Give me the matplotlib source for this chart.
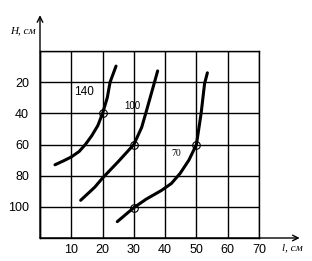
import matplotlib
matplotlib.use("Agg")
import matplotlib.pyplot as plt

# Data
curve_labels = ["140", "100", "70"]
x140 = [4.8, 7.5, 10, 12.5, 14.5, 16.5, 18.5, 20, 21.5, 22.4, 24.3]
h140 = [73, 70.5, 68, 64.5, 60, 54.5, 47.8, 40, 30, 20, 9.7]
x100 = [13, 17.5, 20, 25, 30, 32.5, 33.8, 36.6, 37.6]
h100 = [95.8, 87.4, 81.5, 71, 60, 49, 40, 20, 12.8]
x70 = [24.7, 30, 34, 38.8, 42, 44.8, 47.6, 50, 51.5, 52.6, 53.5]
h70 = [109.5, 100.5, 95, 89.5, 85, 78.5, 70, 60, 40, 21, 14]
pts_x = [20, 30, 30, 50]
pts_h = [40, 60, 100.5, 60]
xticks = [0, 10, 20, 30, 40, 50, 60, 70]
yticks = [0, 20, 40, 60, 80, 100, 120]
xtick_labels = ["", "10", "20", "30", "40", "50", "60", "70"]
ytick_labels = ["", "20", "40", "60", "80", "100", ""]

plt.rcParams['font.family'] = ['Liberation Sans Narrow', 'Liberation Sans', 'DejaVu Sans']

fig = plt.figure(figsize=(3.12, 2.61), dpi=100)
ax = fig.add_axes([40/312, 23/261, 219/312, 187/261])
ax.set_xlim(0, 70)
ax.set_ylim(120, 0)
ax.set_xticks(xticks)
ax.set_xticklabels(xtick_labels, fontsize=9)
ax.set_yticks(yticks)
ax.set_yticklabels(ytick_labels, fontsize=9)
ax.tick_params(length=0, pad=4)
ax.tick_params(axis='y', pad=8)
ax.grid(True, color='black', lw=1.0)
for s in ax.spines.values():
    s.set_color('black')
    s.set_linewidth(1.0)

for xs, hs in [(x140, h140), (x100, h100), (x70, h70)]:
    ax.plot(xs, hs, color='black', lw=2.2, solid_capstyle='round', solid_joinstyle='round')
ax.plot(pts_x, pts_h, 'o', ms=5.5, mfc='none', mec='black', mew=0.8)

ax.text(13.9, 26, curve_labels[0], fontsize=8.5, ha='center', va='center')
ax.text(29.4, 35.3, curve_labels[1], fontsize=7, ha='center', va='center')
ax.text(43.4, 66, curve_labels[2], fontsize=7, ha='center', va='center',
        family=['Liberation Serif', 'DejaVu Serif'])

ax.annotate('', xy=(0, -23), xytext=(0, 120), annotation_clip=False,
            arrowprops=dict(arrowstyle='->', lw=1.0, color='black', shrinkA=0, shrinkB=0))
ax.annotate('', xy=(83, 120), xytext=(0, 120), annotation_clip=False,
            arrowprops=dict(arrowstyle='->', lw=1.0, color='black', shrinkA=0, shrinkB=0))

fig.text(10/312, 1 - 31/261, "H, см", fontsize=8, style='italic',
         family=['Liberation Serif', 'DejaVu Serif'], va='center', ha='left')
fig.text(282/312, 1 - 248/261, "l, см", fontsize=8, style='italic',
         family=['Liberation Serif', 'DejaVu Serif'], va='center', ha='left')

fig.savefig("out.png", dpi=100)
